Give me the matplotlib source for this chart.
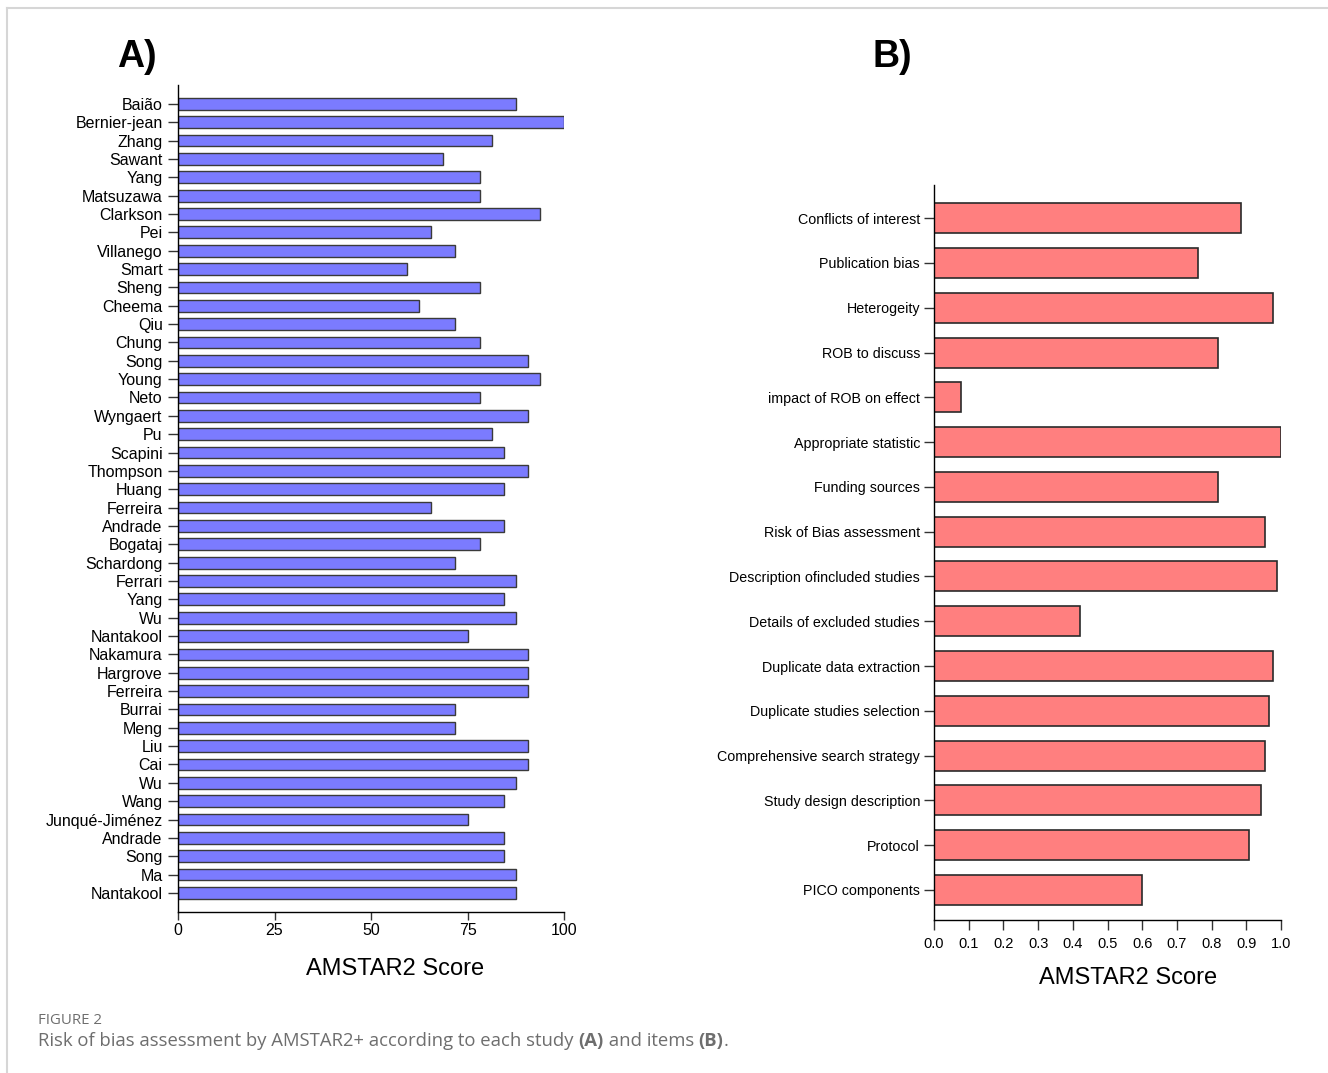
import matplotlib
matplotlib.use("Agg")
import matplotlib.pyplot as plt
from matplotlib.lines import Line2D
import numpy as np

# Panel A: AMSTAR2 score per study (top to bottom)
studies = ["Baião", "Bernier-jean", "Zhang", "Sawant", "Yang", "Matsuzawa", "Clarkson",
           "Pei", "Villanego", "Smart", "Sheng", "Cheema", "Qiu", "Chung", "Song", "Young",
           "Neto", "Wyngaert", "Pu", "Scapini", "Thompson", "Huang", "Ferreira", "Andrade",
           "Bogataj", "Schardong", "Ferrari", "Yang", "Wu", "Nantakool", "Nakamura",
           "Hargrove", "Ferreira", "Burrai", "Meng", "Liu", "Cai", "Wu", "Wang",
           "Junqué-Jiménez", "Andrade", "Song", "Ma", "Nantakool"]
study_scores = [87.5, 100.0, 81.25, 68.75, 78.125, 78.125, 93.75,
                65.625, 71.875, 59.375, 78.125, 62.5, 71.875, 78.125, 90.625, 93.75,
                78.125, 90.625, 81.25, 84.375, 90.625, 84.375, 65.625, 84.375,
                78.125, 71.875, 87.5, 84.375, 87.5, 75.0, 90.625,
                90.625, 90.625, 71.875, 71.875, 90.625, 90.625, 87.5, 84.375,
                75.0, 84.375, 84.375, 87.5, 87.5]

# Panel B: AMSTAR2 score per item (top to bottom)
items = ["Conflicts of interest", "Publication bias", "Heterogeity", "ROB to discuss",
         "impact of ROB on effect", "Appropriate statistic", "Funding sources",
         "Risk of Bias assessment", "Description ofincluded studies",
         "Details of excluded studies", "Duplicate data extraction",
         "Duplicate studies selection", "Comprehensive search strategy",
         "Study design description", "Protocol", "PICO components"]
item_scores = [0.886, 0.761, 0.977, 0.818, 0.078, 1.0, 0.818, 0.955, 0.989,
               0.42, 0.977, 0.964, 0.955, 0.943, 0.908, 0.60]

plt.rcParams['font.family'] = ['Liberation Sans', 'DejaVu Sans']

W, H = 1328, 1073
fig = plt.figure(figsize=(W / 100, H / 100), dpi=100)


def style_axis(ax):
    ax.spines['top'].set_visible(False)
    ax.spines['right'].set_visible(False)
    ax.spines['left'].set_linewidth(1.0)
    ax.spines['bottom'].set_linewidth(1.0)
    ax.tick_params(axis='both', direction='out', length=7, width=1.0, color='#333333')


# ---- panel A
axA = fig.add_axes([178 / W, 1 - 912 / H, 386 / W, (912 - 85) / H])
ya = np.arange(len(studies))
axA.barh(ya, study_scores, height=0.64, color='#7b7bff', edgecolor='#3a3a3a', linewidth=1.0)
axA.set_yticks(ya)
axA.set_yticklabels(studies, fontsize=11.5)
axA.set_ylim(len(studies) - 1 + 1.04, -1.03)
axA.set_xlim(0, 100)
axA.set_xticks([0, 25, 50, 75, 100])
style_axis(axA)
axA.tick_params(axis='x', labelsize=11.5, length=6, pad=2)
axA.tick_params(axis='y', pad=4)
fig.text(395 / W, 1 - 969 / H, "AMSTAR2 Score", fontsize=17, ha='center', va='center')
fig.text(137 / W, 1 - 57 / H, "A)", fontsize=27, fontweight='bold', ha='center', va='center')

# ---- panel B
axB = fig.add_axes([934 / W, 1 - 920 / H, 347 / W, (920 - 185) / H])
yb = np.arange(len(items))
axB.barh(yb, item_scores, height=0.67, color='#ff7f7f', edgecolor='#2a2a2a', linewidth=1.2)
axB.set_yticks(yb)
axB.set_yticklabels(items, fontsize=10.3)
axB.set_ylim(len(items) - 1 + 0.67, -0.74)
axB.set_xlim(0, 1.0)
axB.set_xticks(np.round(np.arange(0, 1.01, 0.1), 1))
axB.set_xticklabels([f"{v:.1f}" for v in np.arange(0, 1.01, 0.1)])
style_axis(axB)
axB.tick_params(axis='x', labelsize=10.5, pad=5)
axB.tick_params(axis='y', pad=3)
fig.text(1128 / W, 1 - 978 / H, "AMSTAR2 Score", fontsize=17, ha='center', va='center')
fig.text(892 / W, 1 - 57 / H, "B)", fontsize=27, fontweight='bold', ha='center', va='center')

# ---- frame lines
fig.add_artist(Line2D([7 / W, 1], [1 - 8 / H, 1 - 8 / H], color='#d6d6d6', linewidth=1.5))
fig.add_artist(Line2D([7 / W, 7 / W], [0, 1 - 8 / H], color='#d6d6d6', linewidth=1.5))

# ---- caption
cap_color = '#6e6e6e'
fig.text(38 / W, 1 - 1021 / H, "FIGURE 2", fontsize=10.8, color=cap_color,
         family=['Open Sans', 'DejaVu Sans'], va='center')
pieces = [("Risk of bias assessment by AMSTAR2+ according to each study ", 'normal'),
          ("(A)", 'bold'), (" and items ", 'normal'), ("(B)", 'bold'), (".", 'normal')]
renderer = fig.canvas.get_renderer()
x = 38
for txt, wt in pieces:
    t = fig.text(x / W, 1 - 1041 / H, txt, fontsize=13.3, color=cap_color, fontweight=wt,
                 family=['Open Sans', 'DejaVu Sans'], va='center')
    bb = t.get_window_extent(renderer=renderer)
    x += bb.width

fig.savefig("out.png", dpi=100)
